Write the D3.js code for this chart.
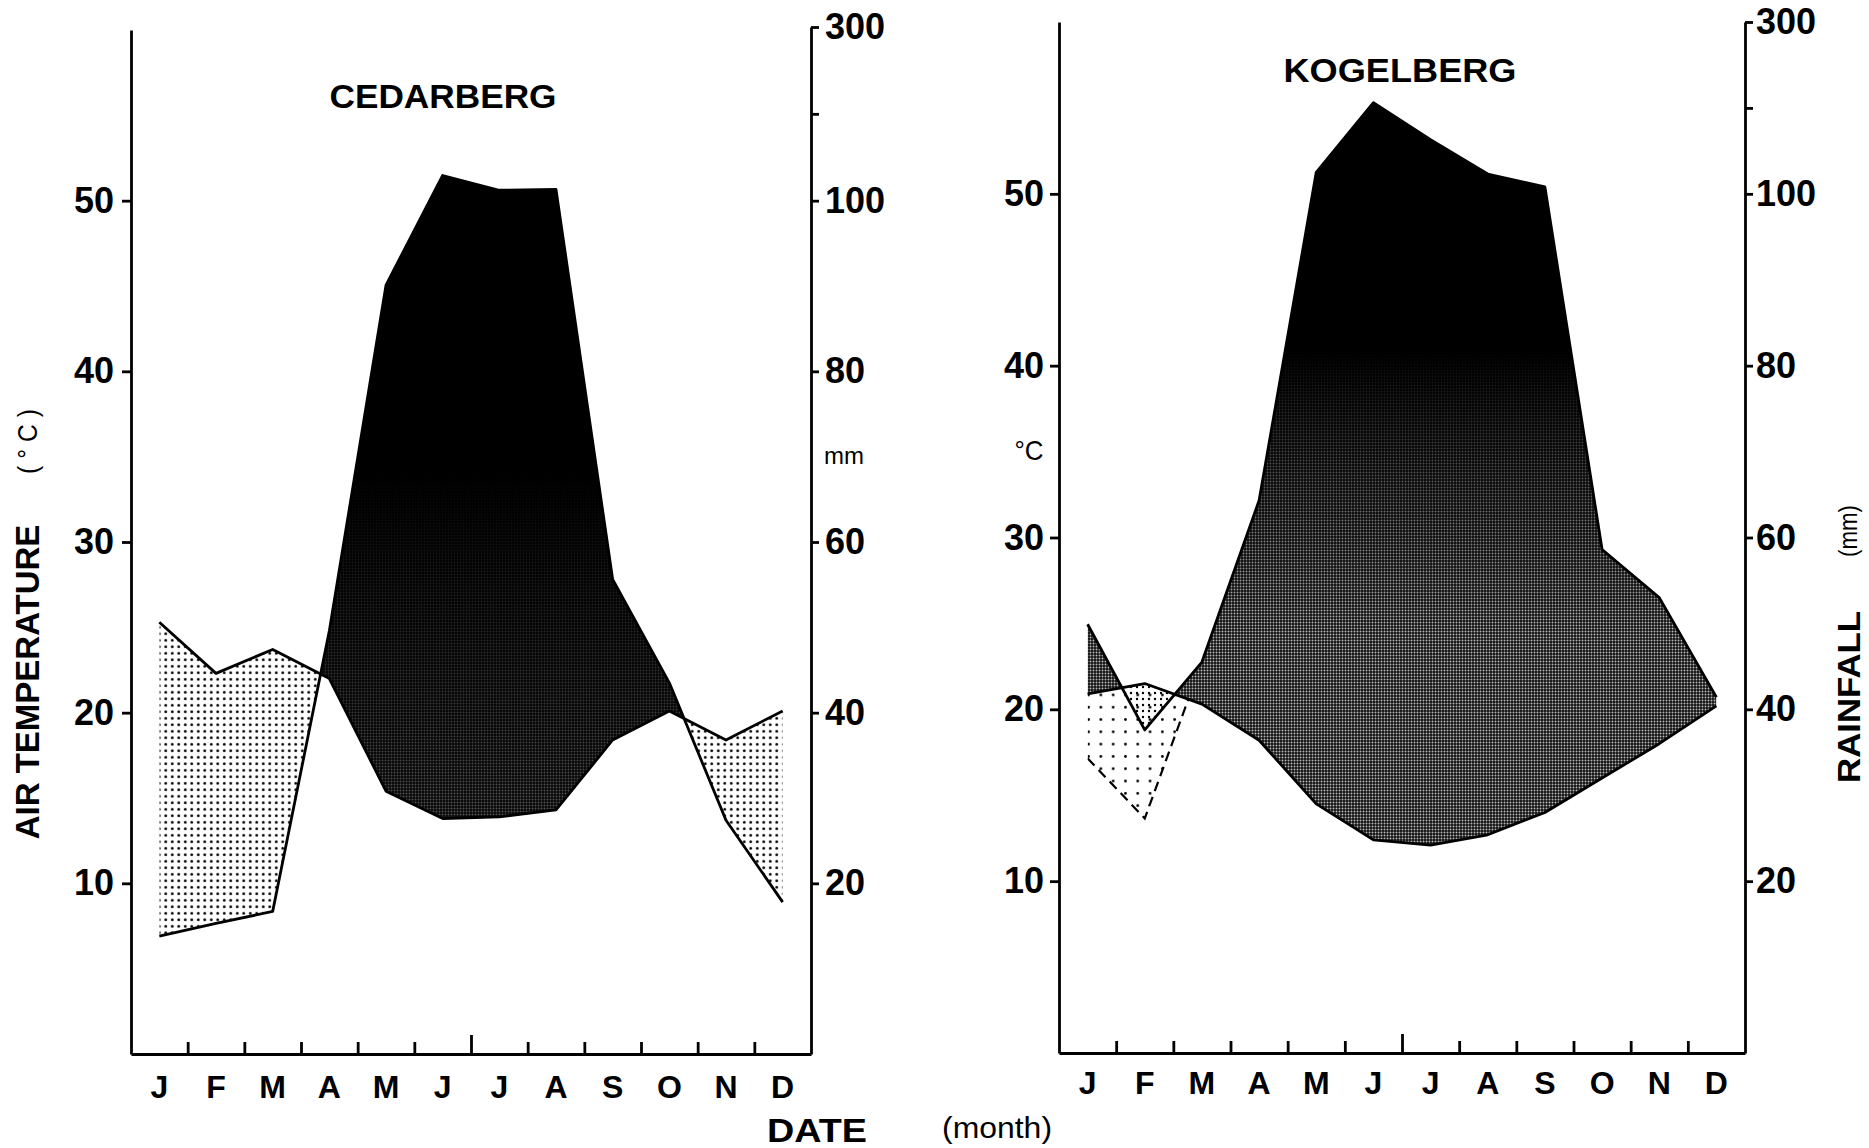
<!DOCTYPE html>
<html>
<head>
<meta charset="utf-8">
<script src="https://cdn.jsdelivr.net/npm/d3@7"></script>
<style>
  body { margin: 0; background: #fff; }
  svg { display: block; }
  text { font-family: "Liberation Sans", Arial, sans-serif; fill: #000; }
</style>
</head>
<body>
<svg id="chart" width="1869" height="1148"></svg>
<script>
const months = ['J', 'F', 'M', 'A', 'M', 'J', 'J', 'A', 'S', 'O', 'N', 'D'];
const tempTicks = [10, 20, 30, 40, 50];
const rainTicks = [20, 40, 60, 80, 100, 200, 300];
const rainTickLabels = ['20', '40', '60', '80', '100', '', '300'];

// Cedarberg: mean air temperature (°C) and rainfall (mm)
const cedarTemp = [25.3, 22.3, 23.7, 22.0, 15.4, 13.8, 13.9, 14.3, 18.4, 20.1, 18.4, 20.1];
const cedarRain = [13.8, 15.3, 16.7, 49.6, 90.1, 129, 112, 113, 55.6, 43.5, 27.4, 17.8];

// Kogelberg
const kogelTemp = [20.9, 21.5, 20.3, 18.2, 14.5, 12.4, 12.1, 12.7, 14.0, 16.0, 18.0, 20.2];
const kogelRain = [49.9, 37.6, 45.5, 64.3, 125, 206, 163, 123, 108, 58.6, 53.0, 41.4];
const kogelRainAlt = [34.3, 27.3, 45.5, null, null, null, null, null, null, null, null, null];

const svg = d3.select('#chart');
const defs = svg.append('defs');

function dotPattern(id, size, r) {
  const p = defs.append('pattern')
      .attr('id', id)
      .attr('patternUnits', 'userSpaceOnUse')
      .attr('width', size)
      .attr('height', size);
  p.append('circle')
      .attr('cx', size / 2)
      .attr('cy', size / 2)
      .attr('r', r)
      .attr('fill', '#000');
}
dotPattern('dots-dense', 6.5, 1.4);
dotPattern('dots-kogel', 6, 1.2);
dotPattern('dots-sparse', 12.3, 1.4);

const ht = defs.append('pattern')
    .attr('id', 'halftone')
    .attr('patternUnits', 'userSpaceOnUse')
    .attr('width', 3)
    .attr('height', 3);
ht.append('rect').attr('width', 3).attr('height', 3).attr('fill', '#111');
ht.append('circle').attr('cx', 1.5).attr('cy', 1.5).attr('r', 0.95).attr('fill', '#bbb');

function panel(cfg) {
  const idx = d3.range(12);
  const x = d3.scaleBand().domain(idx).range([cfg.left, cfg.right]);
  const xEdge = d3.scaleLinear().domain([0, 12]).range([cfg.left, cfg.right]);
  const yT = d3.scaleLinear().domain([0, 60]).range([cfg.bottom, cfg.top]);
  const yR = d3.scaleLinear().domain([0, 100, 300]).range([cfg.bottom, yT(50), cfg.rainTop]);
  const cx = i => x(i) + x.bandwidth() / 2;
  const tY = i => yT(cfg.temp[i]);
  const rY = i => yR(cfg.rain[i]);

  const g = svg.append('g');

  defs.append('clipPath').attr('id', cfg.id + '-belowT')
    .append('path')
      .attr('d', d3.area().x(cx).y0(cfg.bottom).y1(tY)(idx));
  defs.append('clipPath').attr('id', cfg.id + '-aboveT')
    .append('path')
      .attr('d', d3.area().x(cx).y0(0).y1(tY)(idx));

  const fade = defs.append('linearGradient')
      .attr('id', cfg.id + '-fade')
      .attr('gradientUnits', 'userSpaceOnUse')
      .attr('x1', 0).attr('x2', 0)
      .attr('y1', cfg.fade[0]).attr('y2', cfg.fade[1]);
  fade.append('stop').attr('offset', 0).attr('stop-color', '#000').attr('stop-opacity', 1);
  fade.append('stop').attr('offset', 1).attr('stop-color', '#000').attr('stop-opacity', cfg.fade[2]);

  // humid season: rainfall above temperature
  const humid = d3.area().x(cx).y0(cfg.bottom).y1(rY)(idx);
  g.append('path')
      .attr('d', humid)
      .attr('fill', 'url(#halftone)')
      .attr('clip-path', `url(#${cfg.id}-aboveT)`);
  g.append('path')
      .attr('d', humid)
      .attr('fill', `url(#${cfg.id}-fade)`)
      .attr('clip-path', `url(#${cfg.id}-aboveT)`);

  // arid season from the second rainfall record
  if (cfg.alt) {
    const altArea = d3.area()
        .defined(i => cfg.alt[i] != null)
        .x(cx).y0(0).y1(i => yR(cfg.alt[i]));
    g.append('path')
        .attr('d', altArea(idx))
        .attr('fill', 'url(#dots-sparse)')
        .attr('clip-path', `url(#${cfg.id}-belowT)`);
  }

  // arid season: temperature above rainfall
  g.append('path')
      .attr('d', d3.area().x(cx).y0(0).y1(rY)(idx))
      .attr('fill', `url(#${cfg.dots})`)
      .attr('clip-path', `url(#${cfg.id}-belowT)`);

  const line = d3.line().x(cx);
  g.append('path')
      .attr('d', line.y(tY)(idx))
      .attr('fill', 'none')
      .attr('stroke', '#000')
      .attr('stroke-width', 2.8)
      .attr('stroke-linejoin', 'round');
  g.append('path')
      .attr('d', line.y(rY)(idx))
      .attr('fill', 'none')
      .attr('stroke', '#000')
      .attr('stroke-width', 2.8)
      .attr('stroke-linejoin', 'round');

  if (cfg.alt) {
    g.append('path')
        .attr('d', d3.line().defined(i => cfg.alt[i] != null).x(cx).y(i => yR(cfg.alt[i]))(idx))
        .attr('fill', 'none')
        .attr('stroke', '#000')
        .attr('stroke-width', 2.2)
        .attr('stroke-dasharray', '10,6')
        .attr('clip-path', `url(#${cfg.id}-belowT)`);
  }

  // axes
  const styleAxis = (a, size) => {
    a.attr('font-family', null).attr('font-size', null);
    a.selectAll('path, line').attr('stroke', '#000').attr('stroke-width', 2.8);
    a.selectAll('text').attr('font-size', size).attr('font-weight', 'bold');
  };

  g.append('g')
      .attr('transform', `translate(${cfg.left},0)`)
      .call(d3.axisLeft(yT).tickValues(tempTicks).tickSize(9).tickSizeOuter(0).tickPadding(cfg.padL))
      .call(a => styleAxis(a, 36));

  g.append('g')
      .attr('transform', `translate(${cfg.right},0)`)
      .call(d3.axisRight(yR).tickValues(rainTicks).tickFormat((d, i) => rainTickLabels[i])
        .tickSize(8).tickSizeOuter(0).tickPadding(cfg.padR))
      .call(a => styleAxis(a, 36));

  g.append('g')
      .attr('transform', `translate(0,${cfg.bottom})`)
      .call(d3.axisBottom(xEdge).tickValues(d3.range(1, 12)).tickSize(-12).tickSizeOuter(0).tickFormat(''))
      .call(a => styleAxis(a, 32))
      .call(a => a.selectAll('.tick line').filter(d => d === 6).attr('y2', -19));

  g.append('g')
      .attr('transform', `translate(0,${cfg.bottom})`)
      .call(d3.axisBottom(x).tickSize(0).tickPadding(cfg.padM).tickFormat(i => months[i]))
      .call(a => styleAxis(a, 32))
      .call(a => a.select('.domain').remove());

  g.append('text')
      .attr('x', cfg.titleX)
      .attr('y', cfg.titleY)
      .attr('dy', '0.36em')
      .attr('text-anchor', 'middle')
      .attr('font-size', 33)
      .attr('font-weight', 'bold')
      .attr('textLength', cfg.titleLen)
      .attr('lengthAdjust', 'spacingAndGlyphs')
      .text(cfg.title);
}

panel({
  id: 'ced', title: 'CEDARBERG', titleX: 443, titleY: 96, titleLen: 227,
  left: 131, right: 811, bottom: 1054, top: 30, rainTop: 27,
  temp: cedarTemp, rain: cedarRain, dots: 'dots-dense',
  fade: [470, 850, 0.5], padL: 8, padR: 6, padM: 21
});

panel({
  id: 'kog', title: 'KOGELBERG', titleX: 1400, titleY: 70, titleLen: 233,
  left: 1059, right: 1745, bottom: 1053, top: 22, rainTop: 22,
  temp: kogelTemp, rain: kogelRain, alt: kogelRainAlt, dots: 'dots-kogel',
  fade: [350, 630, 0], padL: 6, padR: 3, padM: 18
});

function label(txt, px, py, opts) {
  const t = svg.append('text')
      .attr('transform', `translate(${px},${py})` + (opts.rotate ? ' rotate(-90)' : ''))
      .attr('text-anchor', 'middle')
      .attr('dy', '0.36em')
      .attr('font-size', opts.size)
      .attr('font-weight', opts.bold ? 'bold' : 'normal')
      .text(txt);
  if (opts.len) t.attr('textLength', opts.len).attr('lengthAdjust', 'spacingAndGlyphs');
  return t;
}

label('AIR TEMPERATURE', 27, 682, { rotate: true, size: 33, bold: true });
label('(°C)', 27, 438, { rotate: true, size: 28, len: 72 }).attr('letter-spacing', 8);
label('mm', 844, 455, { size: 24 });
label('°C', 1029, 450, { size: 28, len: 29 });
label('RAINFALL', 1848, 697, { rotate: true, size: 32, bold: true, len: 172 });
label('(mm)', 1848, 531, { rotate: true, size: 26, len: 52 });
label('DATE', 817, 1130, { size: 34, bold: true, len: 100 });
label('(month)', 997, 1128, { size: 29, len: 110 });
</script>
</body>
</html>
